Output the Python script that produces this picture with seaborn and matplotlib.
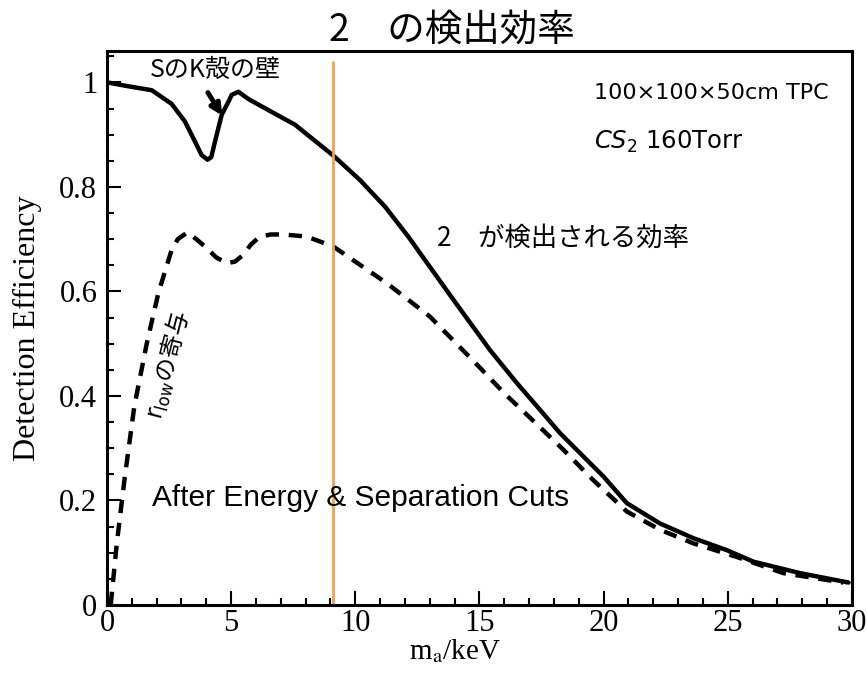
import numpy as np
import pandas as pd
import matplotlib
matplotlib.use("Agg")
import matplotlib.pyplot as plt
import seaborn as sns
from matplotlib.ticker import MultipleLocator

# total efficiency (solid)
mass_total = [0.0, 0.8, 1.8, 2.6, 3.14, 3.54, 3.81, 4.05, 4.2, 4.35, 4.62, 4.89, 5.02, 5.29,
              5.7, 6.23, 7.57, 9.11, 10.19, 11.2, 12.13, 13.95, 15.42, 16.5, 17.5, 18.24,
              19.99, 20.93, 22.27, 23.61, 24.96, 26.03, 27.91, 29.86]
eff_total = [1.0, 0.993, 0.985, 0.959, 0.925, 0.887, 0.861, 0.852, 0.857, 0.887, 0.938,
             0.963, 0.976, 0.982, 0.968, 0.954, 0.919, 0.86, 0.813, 0.762, 0.705, 0.584,
             0.488, 0.425, 0.37, 0.329, 0.246, 0.195, 0.156, 0.128, 0.105, 0.083, 0.061,
             0.043]

# r_low contribution (dashed)
mass_rlow = [0.15, 0.4, 0.72, 1.1, 1.6, 2.07, 2.6, 2.85, 3.24, 3.6, 4.01, 4.4, 4.82, 5.15,
             5.49, 5.8, 6.16, 6.6, 7.1, 8.04, 9.11, 11.26, 13.0, 14.2, 15.0, 16.0, 17.0,
             18.38, 19.58, 20.93, 22.27, 23.61, 25.36, 27.24, 29.65]
eff_rlow = [0.0, 0.12, 0.246, 0.38, 0.5, 0.597, 0.679, 0.7, 0.713, 0.7, 0.683, 0.665,
            0.654, 0.657, 0.67, 0.69, 0.705, 0.709, 0.709, 0.705, 0.686, 0.616, 0.552,
            0.494, 0.455, 0.405, 0.36, 0.297, 0.239, 0.179, 0.144, 0.118, 0.092, 0.061,
            0.043]

cut_mass = 9.1

sns.set_style("white")
plt.rcParams["font.family"] = ["Noto Sans CJK JP", "DejaVu Sans"]
plt.rcParams["mathtext.fontset"] = "dejavusans"
for key in ["text.color", "axes.labelcolor", "xtick.color", "ytick.color"]:
    plt.rcParams[key] = "black"

fig = plt.figure(figsize=(8.67, 6.73), dpi=100)
ax = fig.add_axes([0.1234, 0.101, 0.8593, 0.8232])

df_total = pd.DataFrame({"mass": mass_total, "eff": eff_total})
df_rlow = pd.DataFrame({"mass": mass_rlow, "eff": eff_rlow})
sns.lineplot(data=df_total, x="mass", y="eff", ax=ax, color="black", lw=3.2)
sns.lineplot(data=df_rlow, x="mass", y="eff", ax=ax, color="black", lw=3.2,
             linestyle=(0, (3, 2.2)))

ax.set_xlim(0, 30)
ax.set_ylim(0, 1.06)
ax.axvline(cut_mass, ymin=0, ymax=1.039 / 1.06, color="#f5a04d", lw=2)

serif = ["Liberation Serif", "DejaVu Serif"]
xl = ax.set_xlabel(r"m$_\mathrm{a}$/keV", fontsize=21, family=serif)
xl.set_math_fontfamily("stix")
ax.set_ylabel("Detection Efficiency", fontsize=23, family=serif)
ax.xaxis.set_label_coords(0.467, -0.058)
ax.yaxis.set_label_coords(-0.087, 0.5)
ax.xaxis.set_major_locator(MultipleLocator(5))
ax.xaxis.set_minor_locator(MultipleLocator(1))
ax.yaxis.set_major_locator(MultipleLocator(0.2))
ax.yaxis.set_minor_locator(MultipleLocator(0.05))
ax.set_yticks([0, 0.2, 0.4, 0.6, 0.8, 1.0])
ax.set_yticklabels(["0", "0.2", "0.4", "0.6", "0.8", "1"])
ax.tick_params(which="both", direction="in", left=True, bottom=True, width=1.5)
ax.tick_params(which="major", length=10, labelsize=22)
ax.tick_params(axis="y", which="major", pad=7)
ax.tick_params(axis="x", which="major", pad=3)
ax.tick_params(which="minor", length=5)
for lab in ax.get_xticklabels() + ax.get_yticklabels():
    lab.set_family(serif)
for sp in ax.spines.values():
    sp.set_linewidth(2.2)
    sp.set_color("black")

fig.text(0.521, 0.955, "2　の検出効率", fontsize=27, ha="center", va="center")
ax.text(4.35, 1.024, "SのK殻の壁", fontsize=18, ha="center", va="center")
ax.annotate("", xy=(4.7, 0.932), xytext=(4.0, 0.985),
            arrowprops=dict(arrowstyle="-|>", color="black", lw=3.5, mutation_scale=16))
ax.text(19.6, 0.98, "100×100×50cm TPC", fontsize=16, ha="left", va="center",
        family=["DejaVu Sans"])
ax.text(19.6, 0.886, r"$\mathit{CS}_2$ 160Torr", fontsize=17.5, ha="left", va="center",
        family=["DejaVu Sans"])
ax.text(13.3, 0.702, "2　が検出される効率", fontsize=19, ha="left", va="center")
ax.text(2.45, 0.46, r"$\mathrm{r}_\mathrm{low}$の寄与", fontsize=17, ha="center",
        va="center", rotation=75.5, rotation_mode="anchor")
ax.text(1.8, 0.205, "After Energy & Separation Cuts", fontsize=21.5, ha="left",
        va="center", family=["Liberation Sans", "DejaVu Sans"])

fig.savefig("out.png", dpi=100)
